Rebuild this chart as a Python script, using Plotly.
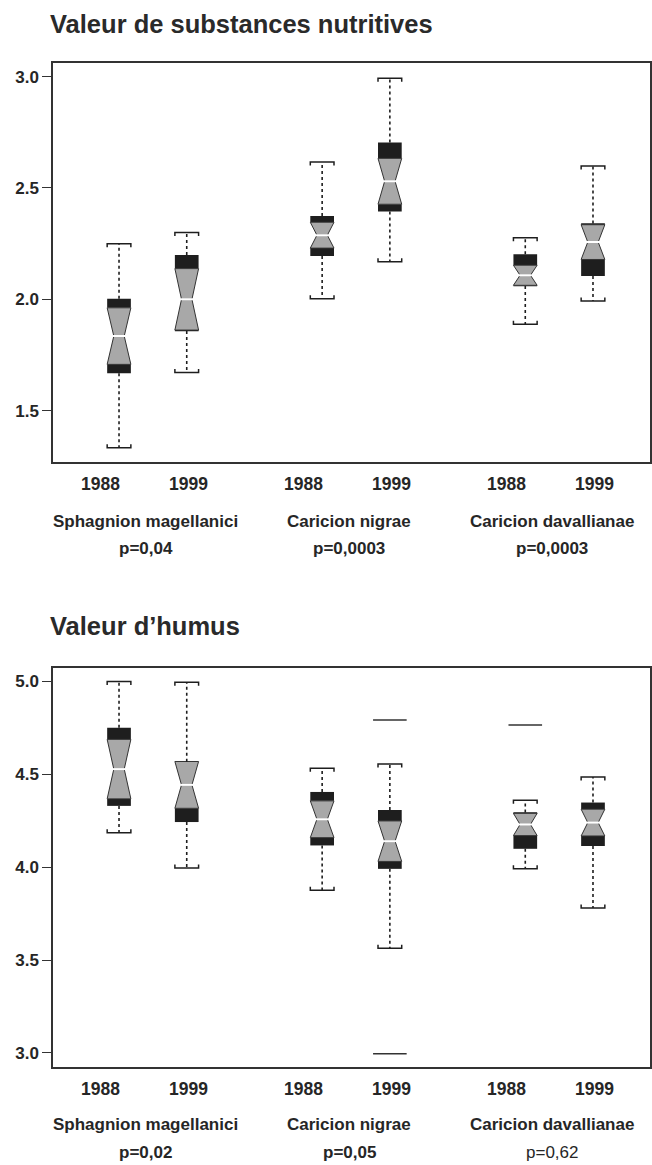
import plotly.graph_objects as go

# ---------------- data ----------------
groups = ["Sphagnion magellanici", "Caricion nigrae", "Caricion davallianae"]
years = ["1988", "1999"]

# Valeur de substances nutritives (order: S88, S99, N88, N99, D88, D99)
nut_lower = [1.334, 1.671, 2.003, 2.169, 1.888, 1.993]
nut_q1 = [1.668, 1.858, 2.195, 2.394, 2.060, 2.105]
nut_median = [1.835, 2.000, 2.288, 2.530, 2.108, 2.257]
nut_q3 = [2.003, 2.199, 2.374, 2.704, 2.202, 2.340]
nut_upper = [2.250, 2.300, 2.617, 2.993, 2.277, 2.599]
nut_notch = [0.127, 0.138, 0.058, 0.103, 0.045, 0.078]
nut_p = ["p=0,04", "p=0,0003", "p=0,0003"]
nut_ticks = [1.5, 2.0, 2.5, 3.0]

# Valeur d'humus
hum_lower = [4.186, 3.996, 3.876, 3.564, 3.991, 3.780]
hum_q1 = [4.330, 4.243, 4.117, 3.991, 4.099, 4.114]
hum_median = [4.528, 4.443, 4.258, 4.140, 4.230, 4.240]
hum_q3 = [4.750, 4.568, 4.405, 4.308, 4.294, 4.348]
hum_upper = [5.000, 4.996, 4.532, 4.555, 4.360, 4.486]
hum_notch = [0.160, 0.126, 0.099, 0.109, 0.060, 0.072]
hum_out_idx = [3, 3, 4]
hum_out_val = [4.793, 2.996, 4.766]
hum_p = ["p=0,02", "p=0,05", "p=0,62"]
hum_p_bold = [True, True, False]
hum_ticks = [3.0, 3.5, 4.0, 4.5, 5.0]

# ---------------- layout constants ----------------
W, H = 652, 1165
ML, MR = 53, 2
BOXW = 0.35
XR = [0.025, 8.842]
NUT_R = [1.271, 3.060]
HUM_R = [2.926, 5.071]
NUT_DOM = [0.6037, 0.9457]
HUM_DOM = [0.0844, 0.4264]

SANS = "Liberation Sans, Arial, sans-serif"
INK = "#1e1e1e"
TXT = "#262626"
GRAY = "#a8a8a8"

pos = [g * 3 + k + 1 for g in range(len(groups)) for k in range(len(years))]


def panel(xa, ya, lower, q1, med, q3, upper, notch, yr, dom):
    tr = []
    lo_band = [max(0.0, (m - c) - a) for a, m, c in zip(q1, med, notch)]
    hi_base = [m + c for m, c in zip(med, notch)]
    hi_band = [max(0.0, b - hb) for b, hb in zip(q3, hi_base)]
    for base, h in ((q1, lo_band), (hi_base, hi_band)):
        tr.append(go.Bar(x=pos, y=h, base=base, width=BOXW, marker=dict(color=INK, line=dict(width=0)),
                         xaxis=xa, yaxis=ya, showlegend=False, hoverinfo="skip"))
    nl = [m - c for m, c in zip(med, notch)]
    nu = [m + c for m, c in zip(med, notch)]
    tr.append(go.Box(x=pos, q1=nl, median=med, q3=nu, lowerfence=nl, upperfence=nu,
                     notchspan=notch, notched=True, notchwidth=0.28, width=BOXW,
                     whiskerwidth=0, fillcolor=GRAY, line=dict(color="#333333", width=1),
                     boxpoints=False, xaxis=xa, yaxis=ya, showlegend=False, hoverinfo="skip"))
    # dotted whiskers
    wx, wy = [], []
    for p_, lo, a, b, hi in zip(pos, lower, q1, q3, upper):
        wx += [p_, p_, None, p_, p_, None]
        wy += [b, hi, None, a, lo, None]
    tr.append(go.Scatter(x=wx, y=wy, mode="lines", line=dict(color=INK, width=1.6, dash="dot"),
                         xaxis=xa, yaxis=ya, showlegend=False, hoverinfo="skip"))
    # bracket caps
    tick = 3.5 * (yr[1] - yr[0]) / ((dom[1] - dom[0]) * H)
    cx, cy = [], []
    hw = BOXW / 2
    for p_, lo, hi in zip(pos, lower, upper):
        cx += [p_ - hw, p_ - hw, p_ + hw, p_ + hw, None]
        cy += [hi - tick, hi, hi, hi - tick, None]
        cx += [p_ - hw, p_ - hw, p_ + hw, p_ + hw, None]
        cy += [lo + tick, lo, lo, lo + tick, None]
    tr.append(go.Scatter(x=cx, y=cy, mode="lines", line=dict(color=INK, width=1.5),
                         xaxis=xa, yaxis=ya, showlegend=False, hoverinfo="skip"))
    # white median
    tr.append(go.Scatter(x=pos, y=med, mode="markers",
                         marker=dict(symbol="line-ew", size=9, line=dict(color="white", width=2)),
                         xaxis=xa, yaxis=ya, showlegend=False, hoverinfo="skip"))
    return tr


traces = []
traces += panel("x", "y", nut_lower, nut_q1, nut_median, nut_q3, nut_upper, nut_notch, NUT_R, NUT_DOM)
traces += panel("x2", "y2", hum_lower, hum_q1, hum_median, hum_q3, hum_upper, hum_notch, HUM_R, HUM_DOM)
traces.append(go.Scatter(x=[pos[i] for i in hum_out_idx], y=hum_out_val, mode="markers",
                         marker=dict(symbol="line-ew", size=24, line=dict(color="#333333", width=1.5)),
                         xaxis="x2", yaxis="y2", showlegend=False, hoverinfo="skip"))

fig = go.Figure(traces)

axis_common = dict(showline=True, linecolor="#333333", linewidth=1.5, mirror=True,
                   showgrid=False, zeroline=False)
xcommon = dict(axis_common, range=XR, showticklabels=False, ticks="")
ycommon = dict(axis_common, ticks="outside", ticklen=9, tickwidth=1.3, tickcolor="#333333",
               tickformat=".1f", tickfont=dict(family=SANS, size=17, color=TXT, weight="bold"))

fig.update_layout(
    width=W, height=H, margin=dict(l=ML, r=MR, t=0, b=0),
    paper_bgcolor="white", plot_bgcolor="white",
    barmode="overlay", boxmode="overlay", showlegend=False,
    xaxis=dict(xcommon, domain=[0, 1], anchor="y"),
    yaxis=dict(ycommon, domain=NUT_DOM, range=NUT_R, tickvals=nut_ticks, anchor="x"),
    xaxis2=dict(xcommon, domain=[0, 1], anchor="y2"),
    yaxis2=dict(ycommon, domain=HUM_DOM, range=HUM_R, tickvals=hum_ticks, anchor="x2"),
)

ann = []
title_font = dict(family=SANS, size=25.5, color="#2a2a2a", weight="bold")
ann.append(dict(text="Valeur de substances nutritives", xref="paper", yref="paper",
                x=-0.008, y=1 - 24.5 / H, xanchor="left", yanchor="middle", showarrow=False, font=title_font))
ann.append(dict(text="Valeur d\u2019humus", xref="paper", yref="paper",
                x=-0.008, y=1 - 626 / H, xanchor="left", yanchor="middle", showarrow=False, font=title_font))

lab_font = dict(family=SANS, size=17, color=TXT, weight="bold")
year_font = dict(lab_font, size=17.5)
year_shift = [-19, 2]
rows = [("x", 484.5, 521, 548, nut_p, [True] * 3), ("x2", 1089, 1124, 1152, hum_p, hum_p_bold)]
for xr, yy, yg, ypv, plist, pbold in rows:
    for i, p_ in enumerate(pos):
        ann.append(dict(text=years[i % 2], xref=xr, yref="paper", x=p_, y=1 - yy / H,
                        xshift=year_shift[i % 2], xanchor="center", yanchor="middle",
                        showarrow=False, font=year_font))
    for g, name in enumerate(groups):
        gx = (pos[2 * g] + pos[2 * g + 1]) / 2
        ann.append(dict(text=name, xref=xr, yref="paper", x=gx, y=1 - yg / H, xshift=-7,
                        xanchor="center", yanchor="middle", showarrow=False, font=lab_font))
        pf = dict(lab_font, weight="bold" if pbold[g] else "normal")
        ann.append(dict(text=plist[g], xref=xr, yref="paper", x=gx, y=1 - ypv / H, xshift=-7,
                        xanchor="center", yanchor="middle", showarrow=False, font=pf))
fig.update_layout(annotations=ann)

fig.write_html(
    "out.html",
    config={"displayModeBar": False},
    post_script="document.body.style.margin='0';document.body.style.padding='0';"
                "document.documentElement.style.overflow='hidden';",
)
